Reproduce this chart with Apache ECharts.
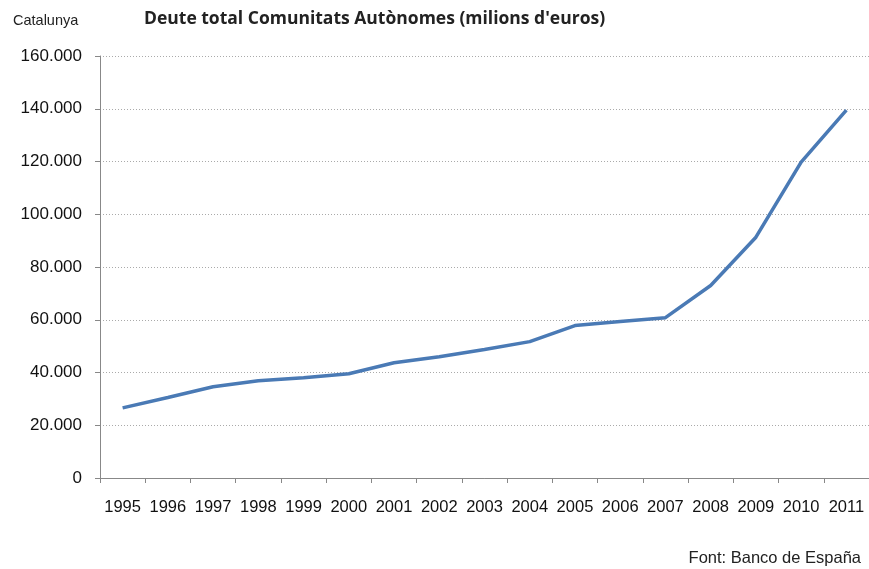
<!DOCTYPE html>
<html lang="ca">
<head>
    <meta charset="UTF-8">
    <title>Deute total Comunitats Autònomes</title>
    <script src="https://cdn.jsdelivr.net/npm/echarts@6/dist/echarts.min.js"></script>
    <style>
        html, body { margin: 0; padding: 0; background: #fff; }
        #charts { width: 869px; height: 569px; }
    </style>
</head>
<body>
<div id="charts"></div>
<script>
    // dades (milions d'euros)
    var years = ['1995', '1996', '1997', '1998', '1999', '2000', '2001', '2002', '2003',
        '2004', '2005', '2006', '2007', '2008', '2009', '2010', '2011'];
    var deute = [26600, 30500, 34600, 36900, 38000, 39500, 43700, 46000, 48700,
        51700, 57800, 59300, 60800, 73000, 91300, 119800, 139500];
    var yTicks = [0, 20000, 40000, 60000, 80000, 100000, 120000, 140000, 160000];

    function fmt(v) {
        // separador de milers amb punt
        return String(v).replace(/\B(?=(\d{3})+(?!\d))/g, '.');
    }

    var myChart = echarts.init(document.getElementById('charts'));
    myChart.setOption({
        animation: false,
        title: [
            {
                text: 'Catalunya',
                left: 8, top: 8,
                textStyle: { fontFamily: 'Liberation Sans', fontSize: 14.5, fontWeight: 'normal', color: '#222' }
            },
            {
                text: "Deute total Comunitats Autònomes (milions d'euros)",
                left: 139, top: 5,
                textStyle: { fontFamily: 'Open Sans', fontSize: 17.5, fontWeight: 'bold', color: '#222' }
            },
            {
                text: 'Font: Banco de España',
                right: 3, top: 545,
                textStyle: { fontFamily: 'Liberation Sans', fontSize: 16.5, fontWeight: 'normal', color: '#222' }
            }
        ],
        grid: { left: 100, right: -3, top: 56, bottom: 91 },
        xAxis: {
            type: 'category',
            data: years,
            boundaryGap: true,
            axisLine: { lineStyle: { color: '#888', width: 1 } },
            axisTick: { show: true, alignWithLabel: false, length: 5, lineStyle: { color: '#888' } },
            axisLabel: { fontFamily: 'Liberation Sans', fontSize: 16.5, color: '#111', margin: 21, interval: 0 }
        },
        yAxis: {
            type: 'value',
            min: yTicks[0],
            max: yTicks[yTicks.length - 1],
            interval: 20000,
            axisLine: { show: true, lineStyle: { color: '#888', width: 1 } },
            axisTick: { show: true, length: 5, lineStyle: { color: '#888' } },
            axisLabel: { fontFamily: 'Liberation Sans', fontSize: 17, color: '#111', margin: 18, formatter: fmt },
            splitLine: { lineStyle: { color: '#aaa', type: [1, 2], width: 1 } }
        },
        series: [{
            type: 'line',
            data: deute,
            symbol: 'none',
            lineStyle: { color: '#4a7ab5', width: 3.5 }
        }]
    });
</script>
</body>
</html>
